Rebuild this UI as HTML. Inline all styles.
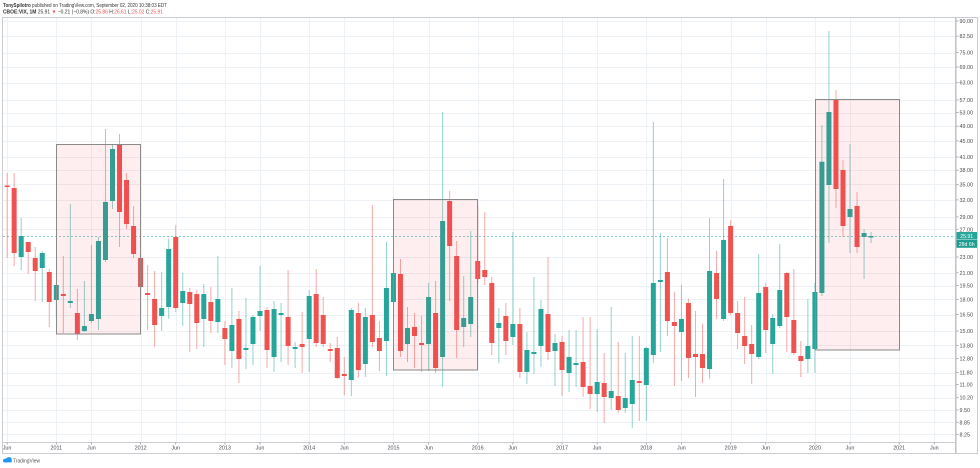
<!DOCTYPE html>
<html><head><meta charset="utf-8"><style>
html,body{margin:0;padding:0;background:#fff;width:980px;height:468px;overflow:hidden}
svg{display:block}
text{font-family:"Liberation Sans",sans-serif}
</style></head><body>
<svg id="c" width="980" height="468" viewBox="0 0 980 468" xmlns="http://www.w3.org/2000/svg">
<rect width="980" height="468" fill="#fff"/>
<g id="grid" stroke="#eef1f6" stroke-width="1" shape-rendering="crispEdges"></g>
<line x1="3" y1="236.5" x2="955" y2="236.5" stroke="#26a69a" stroke-opacity="0.55" stroke-width="1" stroke-dasharray="2 2"/>
<g id="candles"></g>
<g fill="#f23645" fill-opacity="0.085" stroke="#8a8a8a" stroke-width="1">
<rect x="56.5" y="144.5" width="84" height="189.5"/>
<rect x="393.5" y="199.5" width="84" height="170.5"/>
<rect x="815.5" y="99.5" width="84" height="250.5"/>
</g>
<!-- frame -->
<g fill="none" stroke="#c9ccd3" shape-rendering="crispEdges">
<rect x="2.5" y="17.5" width="975" height="436"/>
<line x1="2.5" y1="442.5" x2="955.5" y2="442.5"/>
</g>
<line x1="955.8" y1="17.5" x2="955.8" y2="453.5" stroke="#c2c4ca" stroke-width="1.6"/>
<!-- header -->
<text x="3" y="7" font-size="5.2" fill="#333" textLength="164" lengthAdjust="spacingAndGlyphs"><tspan font-weight="bold">TonySpilotro</tspan> published on TradingView.com, September 02, 2020 10:38:03 EDT</text>
<text x="3" y="13.6" font-size="5.2" fill="#333" textLength="160" lengthAdjust="spacingAndGlyphs"><tspan font-weight="bold">CBOE:VIX, 1M</tspan> 25.91 <tspan fill="#ef5350">▼</tspan> −0.21 (−0.8%) O:<tspan fill="#ef5350">25.86</tspan> H:<tspan fill="#ef5350">26.61</tspan> L:<tspan fill="#ef5350">25.02</tspan> C:<tspan fill="#ef5350">25.91</tspan></text>
<!-- price axis labels -->
<g font-size="5.4" fill="#4a4a4a">
<text x="959.5" y="23">90.00</text>
<text x="959.5" y="38.1">82.50</text>
<text x="959.5" y="54.5">75.00</text>
<text x="959.5" y="69">69.00</text>
<text x="959.5" y="84.7">63.00</text>
<text x="959.5" y="102">57.00</text>
<text x="959.5" y="114.6">53.00</text>
<text x="959.5" y="128.2">49.00</text>
<text x="959.5" y="142.9">45.00</text>
<text x="959.5" y="159">41.00</text>
<text x="959.5" y="172.2">38.00</text>
<text x="959.5" y="186.4">35.00</text>
<text x="959.5" y="201.9">32.00</text>
<text x="959.5" y="218.9">29.00</text>
<text x="959.5" y="231.3">27.00</text>
<text x="959.5" y="259">23.00</text>
<text x="959.5" y="274.8">21.00</text>
<text x="959.5" y="287.6">19.50</text>
<text x="959.5" y="301.4">18.00</text>
<text x="959.5" y="316.5">16.50</text>
<text x="959.5" y="333">15.00</text>
<text x="959.5" y="347.4">13.80</text>
<text x="959.5" y="360.4">12.80</text>
<text x="959.5" y="374.5">11.80</text>
<text x="959.5" y="386.6">11.00</text>
<text x="959.5" y="399.7">10.20</text>
<text x="959.5" y="412">9.50</text>
<text x="959.5" y="424.3">8.85</text>
<text x="959.5" y="436.4">8.25</text>
</g>
<g id="pticks" stroke="#9a9a9a" stroke-width="0.8"></g>
<rect x="956.5" y="232" width="20.5" height="7.6" fill="#26a69a"/>
<rect x="956.5" y="240" width="20.5" height="7.8" fill="#1f9c90"/>
<text x="966.7" y="238" font-size="5.2" fill="#fff" text-anchor="middle">25.91</text>
<text x="966.7" y="246.2" font-size="5.2" fill="#fff" text-anchor="middle">28d 6h</text>
<!-- time axis labels -->
<g font-size="5.4" fill="#4a4a4a" text-anchor="middle">
<text x="7.1" y="449.5">Jun</text>
<text x="56.3" y="449.5">2011</text>
<text x="91.4" y="449.5">Jun</text>
<text x="140.6" y="449.5">2012</text>
<text x="175.7" y="449.5">Jun</text>
<text x="224.9" y="449.5">2013</text>
<text x="260" y="449.5">Jun</text>
<text x="309.2" y="449.5">2014</text>
<text x="344.3" y="449.5">Jun</text>
<text x="393.5" y="449.5">2015</text>
<text x="428.6" y="449.5">Jun</text>
<text x="477.7" y="449.5">2016</text>
<text x="512.8" y="449.5">Jun</text>
<text x="562" y="449.5">2017</text>
<text x="597.1" y="449.5">Jun</text>
<text x="646.3" y="449.5">2018</text>
<text x="681.4" y="449.5">Jun</text>
<text x="730.6" y="449.5">2019</text>
<text x="765.7" y="449.5">Jun</text>
<text x="814.9" y="449.5">2020</text>
<text x="850" y="449.5">Jun</text>
<text x="899.2" y="449.5">2021</text>
<text x="934.3" y="449.5">Jun</text>
</g>
<!-- TradingView logo -->
<g fill="#2196f3">
<ellipse cx="6" cy="460.5" rx="3" ry="2"/>
<ellipse cx="9" cy="459.5" rx="2.8" ry="2.4"/>
<rect x="3.2" y="460" width="8.6" height="2.4" rx="1"/>
</g>
<text x="13" y="462.3" font-size="5.2" fill="#555" textLength="27" lengthAdjust="spacingAndGlyphs">TradingView</text>
<script>
(function(){
var NS="http://www.w3.org/2000/svg";
function el(p,t,a){var e=document.createElementNS(NS,t);for(var k in a)e.setAttribute(k,a[k]);p.appendChild(e);return e;}
var X=function(m){return 56.3+7.024*m;};
var grid=document.getElementById('grid');
var py=[21,36.1,52.5,67,82.7,100,112.6,126.2,140.9,157,170.2,184.4,199.9,216.9,229.3,257,272.8,285.6,299.4,314.5,331,345.4,358.4,372.5,384.6,397.7,410,422.3,434.4];
var pt=document.getElementById('pticks');
py.forEach(function(y){var yy=Math.round(y)+0.5;el(grid,'line',{x1:3,y1:yy,x2:955,y2:yy});el(pt,'line',{x1:956.5,y1:y,x2:958.5,y2:y});});
for(var m=-7;m<=125;m++){var mo=((m%12)+12)%12;if(mo===0||mo===5){var x=Math.round(X(m))+0.5;el(grid,'line',{x1:x,y1:18,x2:x,y2:442});el(pt,'line',{x1:X(m),y1:442.5,x2:X(m),y2:444.5});}}
var D=[[-7,185.5,187,173,258,'r'],[-6,188,253,173,266,'r'],[-5,236,257,218,270,'g'],[-4,242,252,242,274,'r'],[-3,258,271,247,301,'r'],[-2,253,268,251,302,'g'],[-1,272,302,269,327,'r'],
[0,285,300,283,318,'g'],[1,294,296,256,333,'r'],[2,301,303,204,308,'g'],[3,313,334,289,340,'r'],[4,326,331,281,332,'g'],[5,314,321,245,323,'g'],[6,241,319,237,330,'g'],[7,202,260,129,262,'g'],[8,149,201,145,209,'g'],[9,144,212,134,247,'r'],[10,180,224,173,229,'r'],[11,226,254,206,258,'r'],
[12,258,287,255,295,'r'],[13,293,295,265,330,'r'],[14,299,325,271,347,'r'],[15,308,316,272,331,'g'],[16,249,307,239,319,'g'],[17,237,308,225,312,'r'],[18,291,303,273,326,'g'],[19,292,304,288,352,'r'],[20,294,323,290,349,'r'],[21,294,319,284,347,'g'],[22,302,321,287,333,'r'],[23,299,322,256,333,'g'],
[24,328,339,321,365,'r'],[25,325,351,288,368,'g'],[26,319,359,311,383,'r'],[27,348,350,298,369,'g'],[28,317,344,315,365,'g'],[29,311,316,266,331,'g'],[30,310,350,307,368,'r'],[31,309,357,301,372,'g'],[32,313,315,303,362,'g'],[33,317,346,270,365,'r'],[34,347,349,342,368,'g'],[35,344,347,312,373,'r'],
[36,296,339,290,372,'g'],[37,294,343,269,347,'r'],[38,315,344,297,347,'r'],[39,349,351,343,362,'r'],[40,348,378,337,379,'r'],[41,374,376,357,395,'r'],[42,310,380,308,396,'g'],[43,313,370,303,378,'r'],[44,317,364,308,377,'g'],[45,315,342,205,347,'r'],[46,338,351,321,371,'r'],[47,288,341,242,376,'g'],
[48,273,302,253,311,'g'],[49,274,351,259,357,'r'],[50,328,344,307,362,'g'],[51,327,336,313,368,'r'],[52,343,345,316,372,'r'],[53,297,344,283,371,'g'],[54,313,368,281,373,'r'],[55,221,357,112,387,'g'],[56,201,246,191,301,'r'],[57,256,330,241,358,'r'],[58,318,327,276,347,'g'],[59,297,324,231,337,'g'],
[60,261,279,206,283,'r'],[61,270,277,212,285,'r'],[62,283,343,277,355,'r'],[63,323,328,308,363,'g'],[64,316,341,303,355,'r'],[65,324,337,232,345,'g'],[66,324,372,308,378,'r'],[67,350,372,332,384,'g'],[68,352,354,277,374,'g'],[69,309,346,300,367,'g'],[70,314,352,257,360,'r'],[71,343,351,334,386,'g'],
[72,342,370,336,396,'r'],[73,357,373,330,392,'g'],[74,363,365,330,387,'g'],[75,362,387,317,397,'r'],[76,386,394,317,409,'r'],[77,382,394,329,412,'g'],[78,383,397,353,423,'r'],[79,391,398,307,410,'g'],[80,396,410,342,413,'r'],[81,398,408,353,413,'g'],[82,380,404,336,428,'g'],[83,381,383,336,421,'r'],
[84,348,385,347,421,'g'],[85,283,355,122,363,'g'],[86,280,282,233,352,'g'],[87,272,321,238,336,'r'],[88,322,326,292,386,'r'],[89,319,332,285,381,'g'],[90,303,358,299,378,'r'],[91,354,357,311,397,'r'],[92,354,368,324,383,'r'],[93,271,369,218,379,'g'],[94,273,299,251,319,'r'],[95,240,319,179,321,'g'],
[96,226,313,220,315,'r'],[97,313,333,301,349,'r'],[98,336,346,297,364,'r'],[99,344,354,325,384,'r'],[100,293,357,254,359,'g'],[101,287,330,283,353,'r'],[102,318,344,314,374,'g'],[103,290,326,244,328,'g'],[104,273,317,272,352,'r'],[105,320,353,269,355,'r'],[106,356,361,341,377,'r'],[107,346,359,299,373,'g'],
[108,292,349,283,373,'g'],[109,161.7,293,125,296,'g'],[110,112,185,31,243,'g'],[111,100,189,90,208,'r'],[112,170,226,160,237,'r'],[113,209,217,144,253,'g'],[114,206,247,192,253,'r'],[115,233,237,229,279,'g'],[116,236,237.5,232,243,'g']];
var cg=document.getElementById('candles');
D.forEach(function(d){var x=X(d[0]);var col=d[5]==='g'?'#26a69a':'#ef5350';
el(cg,'line',{x1:x,y1:d[3],x2:x,y2:d[4],stroke:col,'stroke-opacity':0.5,'stroke-width':1});
var h=Math.max(d[2]-d[1],1.4);el(cg,'rect',{x:x-2.5,y:d[1],width:5,height:h,fill:col});});
})();
</script>
</svg>
</body></html>
